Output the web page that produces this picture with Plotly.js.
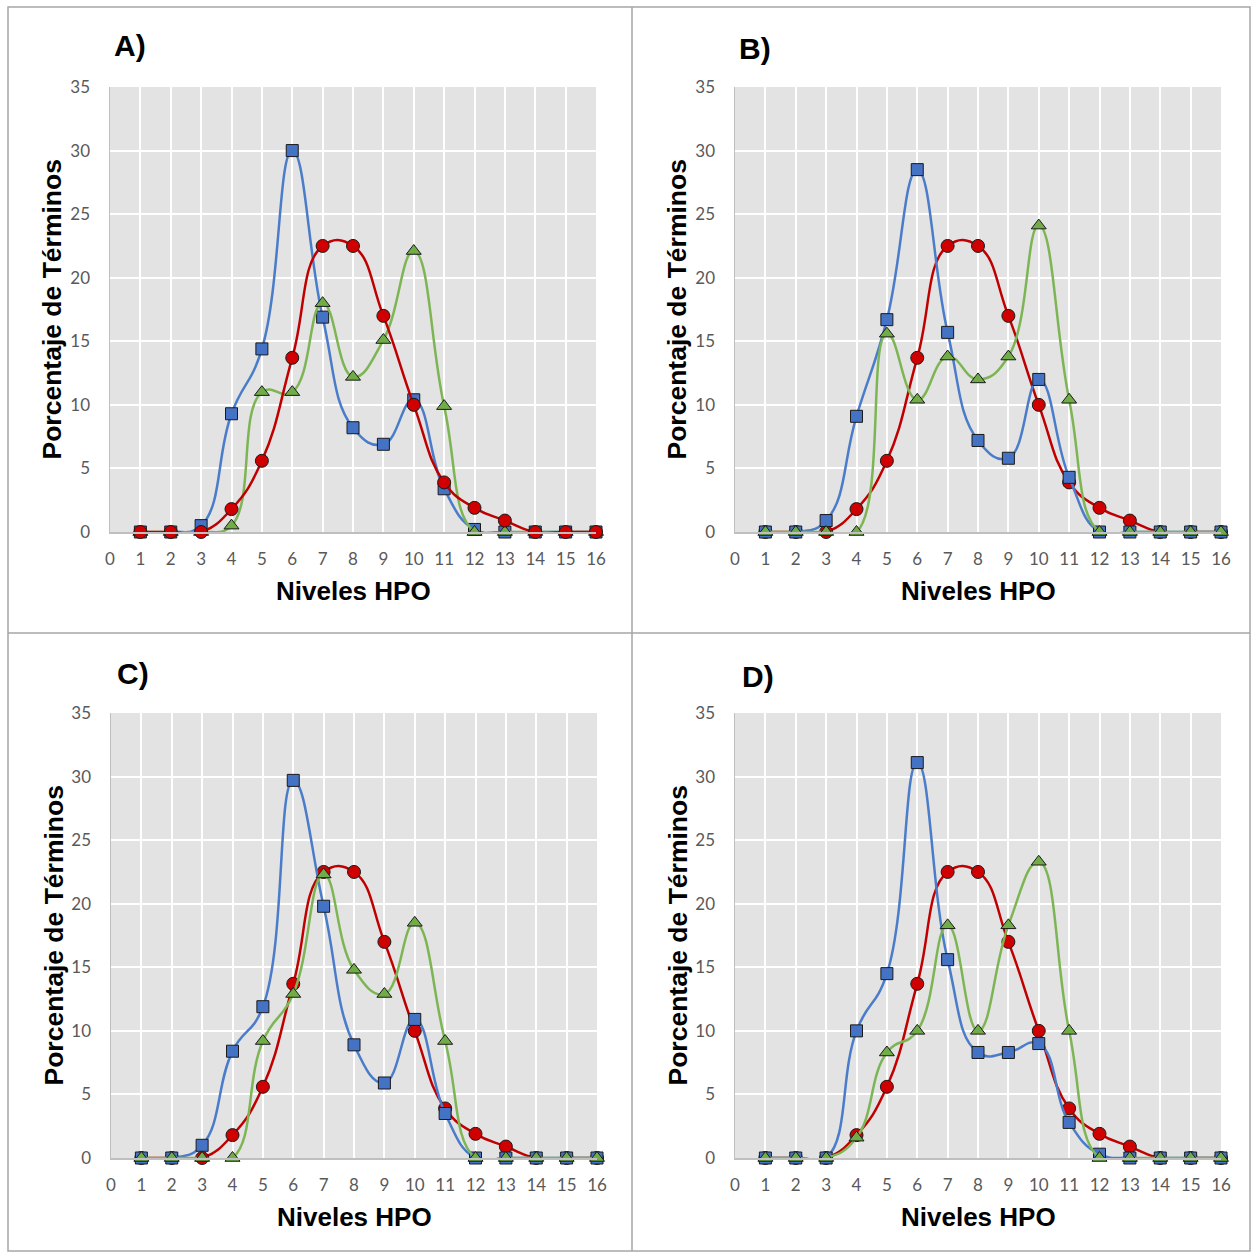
<!DOCTYPE html>
<html>
<head>
<meta charset="utf-8">
<script src="https://cdn.plot.ly/plotly-3.0.1.min.js"></script>
<style>html,body{margin:0;padding:0;background:#fff;}#chart{width:1252px;height:1253px;}</style>
</head>
<body>
<div id="chart"></div>
<script>
// ---- data ----
const levels = [1,2,3,4,5,6,7,8,9,10,11,12,13,14,15,16];
const xTicks = [0,1,2,3,4,5,6,7,8,9,10,11,12,13,14,15,16];
const yTicks = [0,5,10,15,20,25,30,35];
const panelLabels = ["A)", "B)", "C)", "D)"];
const xTitle = "Niveles HPO";
const yTitle = "Porcentaje de Términos";

const redRef = [0,0,0,1.8,5.6,13.7,22.5,22.5,17.0,10.0,3.9,1.9,0.9,0,0,0];

const blueA  = [0,0,0.5,9.3,14.4,30.0,16.9,8.2,6.9,10.4,3.4,0.2,0,0,0,0];
const greenA = [0,0,0,0.5,11.0,11.0,18.0,12.2,15.1,22.1,9.9,0,0,0,0,0];

const blueB  = [0,0,0.9,9.1,16.7,28.5,15.7,7.2,5.8,12.0,4.3,0,0,0,0,0];
const greenB = [0,0,0,0,15.6,10.4,13.8,12.0,13.8,24.1,10.4,0,0,0,0,0];

const blueC  = [0,0,1.0,8.4,11.9,29.7,19.8,8.9,5.9,10.9,3.5,0,0,0,0,0];
const greenC = [0,0,0,0,9.2,12.9,22.3,14.8,12.9,18.5,9.2,0,0,0,0,0];

const blueD  = [0,0,0,10.0,14.5,31.1,15.6,8.3,8.3,9.0,2.8,0.3,0,0,0,0];
const greenD = [0,0,0,1.6,8.3,10.0,18.3,10.0,18.3,23.3,10.0,0,0,0,0,0];

// ---- layout geometry (pixels) ----
const W = 1252, H = 1253;
const panels = [
  {blue: blueA, green: greenA, x0: 110, x1: 596, yTop: 87,  yBot: 532,  label: [130, 46],  order: ["blue","green","red"]},
  {blue: blueB, green: greenB, x0: 735, x1: 1221, yTop: 87, yBot: 532,  label: [755, 48],  order: ["red","blue","green"]},
  {blue: blueC, green: greenC, x0: 111, x1: 597, yTop: 713, yBot: 1158, label: [133, 673], order: ["red","blue","green"]},
  {blue: blueD, green: greenD, x0: 735, x1: 1221, yTop: 713, yBot: 1158, label: [758, 676], order: ["red","blue","green"]}
];

const px = v => v / W;
const py = v => 1 - v / H;

const styles = {
  blue:  {line: "#4A7CC9", fill: "#4472C4", symbol: "square", size: 12},
  green: {line: "#7DB554", fill: "#70AD47", symbol: "triangle-up", size: 13},
  red:   {line: "#C00000", fill: "#D00000", symbol: "circle", size: 13}
};

const traces = [];
const layout = {
  width: W, height: H,
  margin: {l: 0, r: 0, t: 0, b: 0},
  paper_bgcolor: "#ffffff",
  plot_bgcolor: "#E3E3E3",
  showlegend: false,
  font: {family: "Lato, 'Open Sans', sans-serif", color: "#595959", size: 17},
  annotations: [],
  shapes: [
    {type: "rect", xref: "paper", yref: "paper", x0: px(8), x1: px(1250), y0: py(7), y1: py(1251), line: {color: "#A6A6A6", width: 1.5}},
    {type: "line", xref: "paper", yref: "paper", x0: px(632), x1: px(632), y0: py(7), y1: py(1251), line: {color: "#A6A6A6", width: 1.5}},
    {type: "line", xref: "paper", yref: "paper", x0: px(8), x1: px(1250), y0: py(633), y1: py(633), line: {color: "#A6A6A6", width: 1.5}}
  ]
};

panels.forEach((p, i) => {
  const n = i + 1;
  const xa = n === 1 ? "x" : "x" + n;
  const ya = n === 1 ? "y" : "y" + n;
  const series = {blue: p.blue, green: p.green, red: redRef};
  p.order.forEach(k => {
    const s = styles[k];
    traces.push({
      type: "scatter", mode: "lines+markers",
      x: levels, y: series[k], xaxis: xa, yaxis: ya,
      line: {shape: "spline", smoothing: 1.3, color: s.line, width: 2.5},
      marker: {symbol: s.symbol, size: s.size, color: s.fill, line: {color: "#1a1a1a", width: 1}},
      cliponaxis: false, hoverinfo: "skip"
    });
  });
  layout["xaxis" + (n === 1 ? "" : n)] = {
    domain: [px(p.x0), px(p.x1)], anchor: ya,
    range: [0, 16], tickvals: xTicks, ticktext: xTicks.map(String),
    showgrid: true, gridcolor: "#FFFFFF", gridwidth: 2,
    zeroline: false, showline: true, linecolor: "#BFBFBF", linewidth: 1.5,
    ticks: "outside", ticklen: 11, tickcolor: "rgba(0,0,0,0)",
    tickfont: {family: "Lato, sans-serif", size: 17, color: "#595959"}
  };
  layout["yaxis" + (n === 1 ? "" : n)] = {
    domain: [py(p.yBot), py(p.yTop)], anchor: xa,
    range: [0, 35], tickvals: yTicks, ticktext: yTicks.map(String),
    showgrid: true, gridcolor: "#FFFFFF", gridwidth: 2,
    zeroline: false, showline: true, linecolor: "#BFBFBF", linewidth: 1.5,
    ticks: "outside", ticklen: 15, tickcolor: "rgba(0,0,0,0)",
    tickfont: {family: "Lato, sans-serif", size: 17, color: "#595959"}
  };
  // panel letter
  layout.annotations.push({
    xref: "paper", yref: "paper", x: px(p.label[0]), y: py(p.label[1]),
    xanchor: "center", yanchor: "middle", showarrow: false,
    text: "<b>" + panelLabels[i] + "</b>",
    font: {family: "Liberation Sans, Arial, sans-serif", size: 30, color: "#000000"}
  });
  // x title
  layout.annotations.push({
    xref: "paper", yref: "paper", x: px((p.x0 + p.x1) / 2), y: py(p.yBot + 59),
    xanchor: "center", yanchor: "middle", showarrow: false,
    text: "<b>" + xTitle + "</b>",
    font: {family: "Liberation Sans, Arial, sans-serif", size: 26, color: "#000000"}
  });
  // y title
  layout.annotations.push({
    xref: "paper", yref: "paper", x: px(p.x0 - 58), y: py((p.yTop + p.yBot) / 2),
    xanchor: "center", yanchor: "middle", showarrow: false, textangle: -90,
    text: "<b>" + yTitle + "</b>",
    font: {family: "Liberation Sans, Arial, sans-serif", size: 26.5, color: "#000000"}
  });
});

Plotly.newPlot("chart", traces, layout, {displayModeBar: false, staticPlot: true});
</script>
</body>
</html>
